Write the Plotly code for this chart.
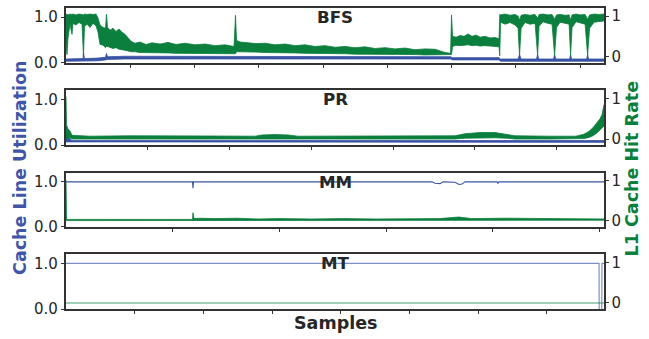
import plotly.graph_objects as go

# ---------------- data ----------------
panel_names = ["BFS", "PR", "MM", "MT"]
panel_lengths = [8370, 6580, 5040, 7830]   # samples per panel
tick_step = 1000

# BFS: L1 hit-rate band (upper / lower envelope) and cache-line utilisation band
bfs_hit_x = [0, 16, 31, 62, 93, 109, 156, 202, 249, 272, 288, 327, 373, 420, 467, 498, 529, 576,
             615, 630, 646, 685, 731, 778, 825, 871, 918, 965, 1011, 1074, 1151, 1245, 1338, 1463,
             1587, 1712, 1852, 2007, 2163, 2318, 2474, 2614, 2637, 2653, 2707, 2832, 2956, 3096,
             3252, 3408, 3563, 3719, 3874, 4030, 4186, 4341, 4497, 4652, 4808, 4964, 5119, 5275,
             5430, 5586, 5742, 5897, 5983, 5998, 6014, 6068, 6131, 6193, 6255, 6317, 6380, 6442,
             6520, 6597, 6675, 6737, 6748, 6761, 6831, 6909, 6986, 7033, 7056, 7080, 7142, 7220,
             7298, 7337, 7360, 7422, 7500, 7562, 7601, 7632, 7687, 7764, 7827, 7850, 7873, 7936,
             7998, 8076, 8115, 8146, 8216, 8293, 8370]
bfs_hit_hi = [1.04, 1.05, 1.03, 1.05, 1.04, 1.05, 1.03, 1.05, 1.04, 1.03, 1.05, 1.04, 1.05, 1.04,
              1.05, 0.95, 0.78, 0.72, 0.70, 1.05, 0.72, 0.65, 0.70, 0.62, 0.68, 0.60, 0.55, 0.45,
              0.38, 0.33, 0.36, 0.30, 0.34, 0.31, 0.35, 0.30, 0.33, 0.29, 0.31, 0.27, 0.29, 0.25,
              1.02, 0.40, 0.36, 0.34, 0.32, 0.33, 0.29, 0.31, 0.27, 0.29, 0.25, 0.27, 0.23, 0.25,
              0.22, 0.24, 0.20, 0.22, 0.19, 0.21, 0.17, 0.19, 0.18, 0.10, 0.08, 1.03, 0.50, 0.48,
              0.52, 0.50, 0.56, 0.50, 0.53, 0.48, 0.50, 0.46, 0.47, 0.44, 1.04, 1.03, 1.05, 1.02,
              1.04, 1.00, 0.90, 1.02, 1.04, 1.02, 1.04, 0.95, 1.04, 1.05, 1.03, 1.04, 0.92, 1.03,
              1.04, 1.02, 1.03, 0.90, 1.03, 1.05, 1.03, 1.04, 0.92, 1.03, 1.05, 1.04, 1.05]
bfs_hit_lo = [0.30, 0.05, 0.45, 0.80, 0.55, 0.82, 0.78, 0.84, 0.80, 0.02, 0.75, 0.80, 0.72, 0.82,
              0.76, 0.60, 0.30, 0.28, 0.22, 0.25, 0.25, 0.22, 0.20, 0.22, 0.18, 0.17, 0.16, 0.14,
              0.12, 0.12, 0.10, 0.10, 0.10, 0.09, 0.09, 0.08, 0.08, 0.08, 0.08, 0.07, 0.07, 0.07,
              0.07, 0.12, 0.12, 0.11, 0.11, 0.10, 0.10, 0.09, 0.09, 0.08, 0.08, 0.07, 0.07, 0.07,
              0.06, 0.06, 0.06, 0.05, 0.05, 0.05, 0.05, 0.04, 0.04, 0.04, 0.04, 0.05, 0.25, 0.28,
              0.27, 0.28, 0.29, 0.27, 0.28, 0.26, 0.27, 0.26, 0.25, 0.24, 0.02, 0.85, 0.80, 0.84,
              0.78, 0.70, 0.02, 0.70, 0.84, 0.80, 0.82, 0.03, 0.75, 0.86, 0.82, 0.80, 0.03, 0.72,
              0.85, 0.83, 0.80, 0.03, 0.72, 0.86, 0.84, 0.80, 0.03, 0.70, 0.85, 0.86, 0.88]

bfs_util_x = [0, 265, 272, 288, 498, 615, 630, 646, 918, 2637, 2653, 5983, 6014, 6737, 6761,
              7033, 7056, 7080, 7320, 7337, 7355, 7585, 7601, 7620, 7835, 7850, 7865, 8100, 8115,
              8130, 8370]
bfs_util_lo = [0.03, 0.03, 0.03, 0.04, 0.04, 0.06, 0.06, 0.07, 0.08, 0.08, 0.07, 0.08, 0.06,
               0.06, 0.03, 0.03, 0.03, 0.03, 0.03, 0.03, 0.03, 0.03, 0.03, 0.03, 0.03, 0.03,
               0.03, 0.03, 0.03, 0.03, 0.03]
bfs_util_hi = [0.08, 0.09, 0.22, 0.09, 0.10, 0.12, 0.20, 0.13, 0.14, 0.14, 0.14, 0.13, 0.11,
               0.11, 0.08, 0.08, 0.18, 0.08, 0.08, 0.18, 0.08, 0.08, 0.18, 0.08, 0.08, 0.18,
               0.08, 0.08, 0.18, 0.08, 0.08]

# PR
pr_hit_x = [0, 6, 24, 49, 73, 294, 783, 1272, 1761, 2311, 2397, 2556, 2715, 2837, 3351, 4085,
            4757, 4880, 5063, 5247, 5393, 5491, 5919, 6237, 6335, 6397, 6445, 6494, 6531, 6555, 6580]
pr_hit_hi = [1.05, 0.35, 0.25, 0.20, 0.09, 0.07, 0.08, 0.07, 0.075, 0.07, 0.10, 0.11, 0.10, 0.07,
             0.07, 0.07, 0.08, 0.13, 0.16, 0.16, 0.12, 0.08, 0.07, 0.07, 0.12, 0.19, 0.28, 0.40,
             0.50, 0.60, 0.85]
pr_hit_lo = [0.0, 0.02, 0.02, 0.03, 0.0, 0.0, 0.0, 0.0, 0.0, 0.0, 0.01, 0.01, 0.01, 0.0, 0.0,
             0.0, 0.0, 0.02, 0.03, 0.03, 0.02, 0.0, 0.0, 0.0, 0.01, 0.04, 0.08, 0.15, 0.22, 0.28, 0.32]
pr_util_x = [0, 49, 73, 6580]
pr_util_lo = [0.07, 0.07, 0.06, 0.06]
pr_util_hi = [0.18, 0.14, 0.10, 0.10]

# MM
mm_util_x = [0, 1185, 1190, 1194, 3429, 3457, 3504, 3532, 3644, 3682, 3710, 3738, 4038, 4047,
             4056, 5040]
mm_util = [1.0, 1.0, 0.86, 1.0, 1.0, 0.97, 0.96, 1.0, 0.99, 0.94, 0.95, 1.0, 1.0, 0.97, 1.0, 1.0]
mm_hit_x = [0, 5, 1185, 1190, 1199, 1250, 1400, 1600, 1800, 2000, 2300, 2600, 2900, 3200, 3500,
            3680, 3800, 4100, 4400, 4700, 5040]
mm_hit_hi = [1.02, 0.03, 0.03, 0.20, 0.05, 0.06, 0.05, 0.06, 0.04, 0.05, 0.04, 0.05, 0.04, 0.05,
             0.05, 0.09, 0.05, 0.06, 0.05, 0.04, 0.04]
mm_hit_lo = [0.0, 0.0, 0.01, 0.01, 0.01, 0.01, 0.01, 0.01, 0.01, 0.01, 0.01, 0.01, 0.01, 0.01,
             0.01, 0.01, 0.01, 0.01, 0.01, 0.01, 0.01]

# MT
mt_util_x = [0, 7758, 7760, 7798, 7800, 7830]
mt_util = [1.0, 1.0, -0.05, -0.05, 1.0, 1.0]
mt_hit_x = [0, 7830]
mt_hit = [0.0, 0.0]

# ---------------- style ----------------
BLUE = "#3953a4"
GREEN = "#0b7f3d"
TXT = "#262626"
FRAME = "#333333"
FONT = "DejaVu Sans"

W, H = 649, 339
L, R, T, B = 66, 45, 6, 30
plot_h = H - T - B
panel_px = [(6, 61), (89, 144), (172, 226), (254, 309)]

fig = go.Figure()


def band(xa, yb, xs, lo, hi, color):
    fig.add_trace(go.Scatter(x=xs, y=lo, mode="lines", line=dict(color=color, width=0.8),
                             xaxis=xa, yaxis=yb, showlegend=False, hoverinfo="skip"))
    fig.add_trace(go.Scatter(x=xs, y=hi, mode="lines", line=dict(color=color, width=0.8),
                             fill="tonexty", fillcolor=color,
                             xaxis=xa, yaxis=yb, showlegend=False, hoverinfo="skip"))


# BFS
band("x", "y", bfs_util_x, bfs_util_lo, bfs_util_hi, BLUE)
band("x", "y2", bfs_hit_x, bfs_hit_lo, bfs_hit_hi, GREEN)
# PR
band("x2", "y3", pr_util_x, pr_util_lo, pr_util_hi, BLUE)
band("x2", "y4", pr_hit_x, pr_hit_lo, pr_hit_hi, GREEN)
# MM
fig.add_trace(go.Scatter(x=mm_util_x, y=mm_util, mode="lines", line=dict(color=BLUE, width=1.1),
                         xaxis="x3", yaxis="y5", showlegend=False, hoverinfo="skip"))
band("x3", "y6", mm_hit_x, mm_hit_lo, mm_hit_hi, GREEN)
# MT
fig.add_trace(go.Scatter(x=mt_util_x, y=mt_util, mode="lines",
                         line=dict(color="rgba(57,83,164,0.65)", width=1.2),
                         xaxis="x4", yaxis="y7", showlegend=False, hoverinfo="skip"))
fig.add_trace(go.Scatter(x=mt_hit_x, y=mt_hit, mode="lines",
                         line=dict(color="rgba(11,127,61,0.75)", width=1.1),
                         xaxis="x4", yaxis="y8", showlegend=False, hoverinfo="skip"))

layout = dict(
    width=W, height=H,
    margin=dict(l=L, r=R, t=T, b=B, pad=0),
    paper_bgcolor="white", plot_bgcolor="white",
    font=dict(family=FONT, color=TXT, size=15),
    showlegend=False,
)

annotations = []
for i, (name, n) in enumerate(zip(panel_names, panel_lengths)):
    top_px, bot_px = panel_px[i]
    d0 = (H - B - bot_px) / plot_h
    d1 = (H - B - top_px) / plot_h
    xs = "" if i == 0 else str(i + 1)
    yl = "" if i == 0 else str(2 * i + 1)
    yr = str(2 * i + 2)
    layout["xaxis" + xs] = dict(
        domain=[0, 1], anchor="y" + yl, range=[0, n],
        tickvals=list(range(tick_step, n, tick_step)), showticklabels=False,
        ticks="outside", ticklen=3.5, tickwidth=1.1, tickcolor=FRAME,
        showline=True, mirror=True, linecolor=FRAME, linewidth=1.5,
        showgrid=False, zeroline=False,
    )
    layout["yaxis" + yl] = dict(
        domain=[d0, d1], anchor="x" + xs, range=[0, 1.2],
        tickvals=[0, 1], ticktext=["0.0", "1.0"],
        ticks="outside", ticklen=3.5, tickwidth=1.1, tickcolor=FRAME,
        tickfont=dict(size=15, color=TXT, family=FONT),
        showline=True, mirror=True, linecolor=FRAME, linewidth=1.5,
        showgrid=False, zeroline=False,
    )
    layout["yaxis" + yr] = dict(
        overlaying="y" + yl, anchor="x" + xs, side="right", range=[-0.15, 1.2],
        tickvals=[0, 1], ticktext=["0", "1"],
        ticks="outside", ticklen=3.5, tickwidth=1.1, tickcolor=FRAME,
        tickfont=dict(size=15, color=TXT, family=FONT),
        showline=False, showgrid=False, zeroline=False,
    )
    annotations.append(dict(
        text="<b>" + name + "</b>", xref="paper", yref="paper", x=0.5, y=d1,
        yshift=3, xanchor="center", yanchor="top", showarrow=False,
        font=dict(size=16.7, color=TXT, family=FONT),
    ))

annotations.append(dict(
    text="<b>Cache Line Utilization</b>", xref="paper", yref="paper",
    x=(20 - L) / (W - L - R), y=(H - B - 167) / plot_h, textangle=-90,
    xanchor="center", yanchor="middle", showarrow=False,
    font=dict(size=17.5, color="#3f55a8", family=FONT),
))
annotations.append(dict(
    text="<b>L1 Cache Hit Rate</b>", xref="paper", yref="paper",
    x=(632 - L) / (W - L - R), y=(H - B - 167.5) / plot_h, textangle=-90,
    xanchor="center", yanchor="middle", showarrow=False,
    font=dict(size=17.5, color=GREEN, family=FONT),
))
annotations.append(dict(
    text="<b>Samples</b>", xref="paper", yref="paper",
    x=0.5, y=(H - B - 323) / plot_h,
    xanchor="center", yanchor="middle", showarrow=False,
    font=dict(size=17.5, color=TXT, family=FONT),
))
layout["annotations"] = annotations

fig.update_layout(**layout)
fig.write_html("out.html", config={"displayModeBar": False},
               post_script="document.body.style.margin='0';document.body.style.padding='0';")
